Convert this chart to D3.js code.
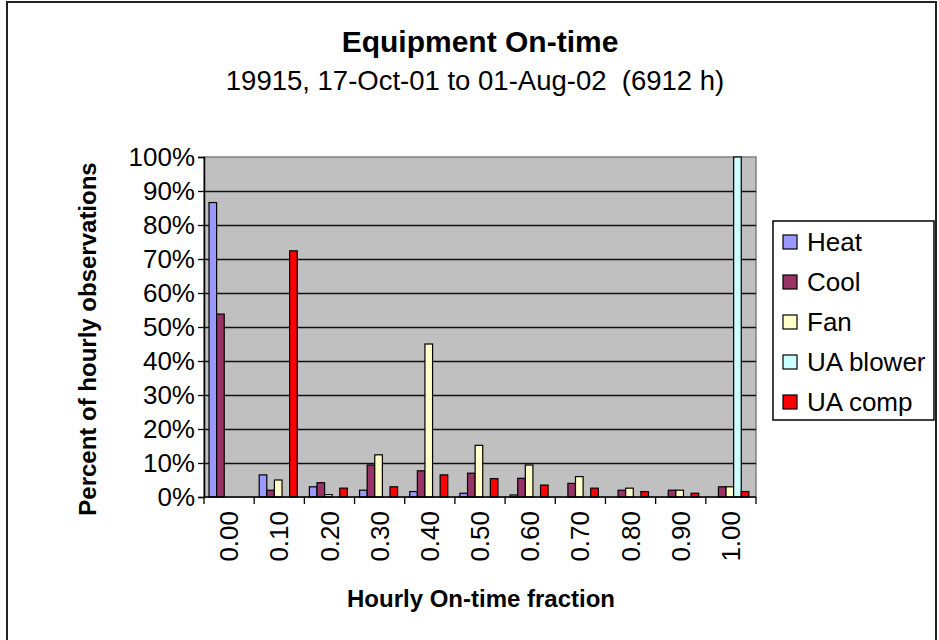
<!DOCTYPE html>
<html>
<head>
<meta charset="utf-8">
<script src="https://cdn.jsdelivr.net/npm/d3@7"></script>
<style>
  body { margin: 0; background: #fff; }
  text { font-family: "Liberation Sans", Arial, sans-serif; fill: #000; }
</style>
</head>
<body>
<div id="chart"></div>
<script>
// values (percent of hourly observations)
const categories = ["0.00", "0.10", "0.20", "0.30", "0.40", "0.50", "0.60", "0.70", "0.80", "0.90", "1.00"];
const seriesNames = ["Heat", "Cool", "Fan", "UA blower", "UA comp"];
const seriesColors = ["#9999ff", "#993366", "#ffffcc", "#ccffff", "#ff0000"];
const heat     = [86.6, 6.5, 3.0, 2.0, 1.6, 1.1, 0.6, 0, 0, 0, 0];
const cool     = [53.8, 2.0, 4.2, 9.4, 7.7, 7.0, 5.5, 4.0, 2.0, 2.0, 3.0];
const fan      = [0, 5.0, 0.7, 12.4, 45.0, 15.2, 9.4, 6.0, 2.6, 2.0, 3.0];
const uaBlower = [0, 0, 0, 0, 0, 0, 0, 0, 0, 0, 100];
const uaComp   = [0, 72.4, 2.6, 3.0, 6.5, 5.4, 3.5, 2.6, 1.6, 1.1, 1.6];
const yTicks = [0, 10, 20, 30, 40, 50, 60, 70, 80, 90, 100];

const seriesValues = [heat, cool, fan, uaBlower, uaComp];

const width = 939, height = 640;
const plot = {left: 204, right: 756, top: 157, bottom: 497};

const svg = d3.select("#chart")
  .append("svg")
  .attr("width", width)
  .attr("height", height);

svg.append("rect")
  .attr("width", width).attr("height", height)
  .attr("fill", "#fff");

// outer chart frame
svg.append("rect")
  .attr("x", 7).attr("y", 2)
  .attr("width", 929).attr("height", 660)
  .attr("fill", "none")
  .attr("stroke", "#222")
  .attr("stroke-width", 2);

// scales
const x0 = d3.scaleBand()
  .domain(categories)
  .range([plot.left, plot.right]);

const bw = x0.bandwidth();
const x1 = d3.scaleBand()
  .domain(seriesNames)
  .range([bw * 0.1, bw * 0.1 + 5 * bw / 6.6]);

const y = d3.scaleLinear()
  .domain([0, 100])
  .range([plot.bottom, plot.top]);

// plot background
svg.append("rect")
  .attr("x", plot.left).attr("y", plot.top)
  .attr("width", plot.right - plot.left)
  .attr("height", plot.bottom - plot.top)
  .attr("fill", "#c0c0c0")
  .attr("stroke", "#808080")
  .attr("stroke-width", 1.5);

// gridlines
svg.append("g")
  .selectAll("line")
  .data(yTicks.filter(t => t > 0 && t < 100))
  .join("line")
  .attr("x1", plot.left).attr("x2", plot.right)
  .attr("y1", d => Math.round(y(d)) + 0.5)
  .attr("y2", d => Math.round(y(d)) + 0.5)
  .attr("stroke", "#111")
  .attr("stroke-width", 1.3);

// bars
const rows = [];
categories.forEach((c, i) => {
  seriesNames.forEach((s, j) => {
    rows.push({cat: c, series: s, color: seriesColors[j], value: seriesValues[j][i]});
  });
});

svg.append("g")
  .selectAll("rect")
  .data(rows.filter(d => d.value > 0))
  .join("rect")
  .attr("x", d => x0(d.cat) + x1(d.series))
  .attr("y", d => y(d.value))
  .attr("width", x1.bandwidth())
  .attr("height", d => y(0) - y(d.value))
  .attr("fill", d => d.color)
  .attr("stroke", "#000")
  .attr("stroke-width", 1.2);

// y axis
const yAxis = d3.axisLeft(y)
  .tickValues(yTicks)
  .tickFormat(d => d + "%")
  .tickSize(6)
  .tickPadding(3);

const gy = svg.append("g")
  .attr("transform", `translate(${plot.left},0)`)
  .call(yAxis);
gy.select(".domain").attr("stroke", "#000").attr("stroke-width", 1.5);
gy.selectAll(".tick line").attr("stroke", "#000").attr("stroke-width", 1.3);
gy.selectAll(".tick text")
  .attr("font-size", 26)
  .attr("font-family", "Liberation Sans, Arial, sans-serif")
  .attr("fill", "#000");

// x axis: ticks at band edges, labels rotated
const gx = svg.append("g");
gx.append("line")
  .attr("x1", plot.left).attr("x2", plot.right)
  .attr("y1", plot.bottom).attr("y2", plot.bottom)
  .attr("stroke", "#000").attr("stroke-width", 1.5);

const edges = categories.map(c => x0(c)).concat([plot.right]);
gx.selectAll("line.edge")
  .data(edges)
  .join("line")
  .attr("class", "edge")
  .attr("x1", d => d).attr("x2", d => d)
  .attr("y1", plot.bottom).attr("y2", plot.bottom + 7)
  .attr("stroke", "#000").attr("stroke-width", 1.3);

gx.selectAll("text")
  .data(categories)
  .join("text")
  .attr("transform", d => `translate(${x0(d) + bw / 2},${plot.bottom + 14}) rotate(-90)`)
  .attr("text-anchor", "end")
  .attr("dy", "0.35em")
  .attr("font-size", 26)
  .text(d => d);

// titles
svg.append("text")
  .attr("x", 480).attr("y", 52)
  .attr("text-anchor", "middle")
  .attr("font-size", 30)
  .attr("font-weight", "bold")
  .text("Equipment On-time");

svg.append("text")
  .attr("x", 475).attr("y", 90)
  .attr("text-anchor", "middle")
  .attr("font-size", 27.5)
  .attr("xml:space", "preserve")
  .style("white-space", "pre")
  .text("19915, 17-Oct-01 to 01-Aug-02  (6912 h)");

svg.append("text")
  .attr("transform", `translate(96,${(plot.top + plot.bottom) / 2 + 12}) rotate(-90)`)
  .attr("text-anchor", "middle")
  .attr("font-size", 24)
  .attr("font-weight", "bold")
  .text("Percent of hourly observations");

svg.append("text")
  .attr("x", 481).attr("y", 607)
  .attr("text-anchor", "middle")
  .attr("font-size", 24)
  .attr("font-weight", "bold")
  .text("Hourly On-time fraction");

// legend
const legend = svg.append("g");
legend.append("rect")
  .attr("x", 773).attr("y", 221)
  .attr("width", 161).attr("height", 199)
  .attr("fill", "#fff")
  .attr("stroke", "#000")
  .attr("stroke-width", 1.5);

const items = legend.selectAll("g.item")
  .data(seriesNames)
  .join("g")
  .attr("class", "item")
  .attr("transform", (d, i) => `translate(783,${242 + i * 40})`);

items.append("rect")
  .attr("x", 0).attr("y", -7)
  .attr("width", 14).attr("height", 14)
  .attr("fill", (d, i) => seriesColors[i])
  .attr("stroke", "#000")
  .attr("stroke-width", 1.2);

items.append("text")
  .attr("x", 24).attr("y", 0)
  .attr("dy", "0.36em")
  .attr("font-size", 26)
  .text(d => d);
</script>
</body>
</html>
